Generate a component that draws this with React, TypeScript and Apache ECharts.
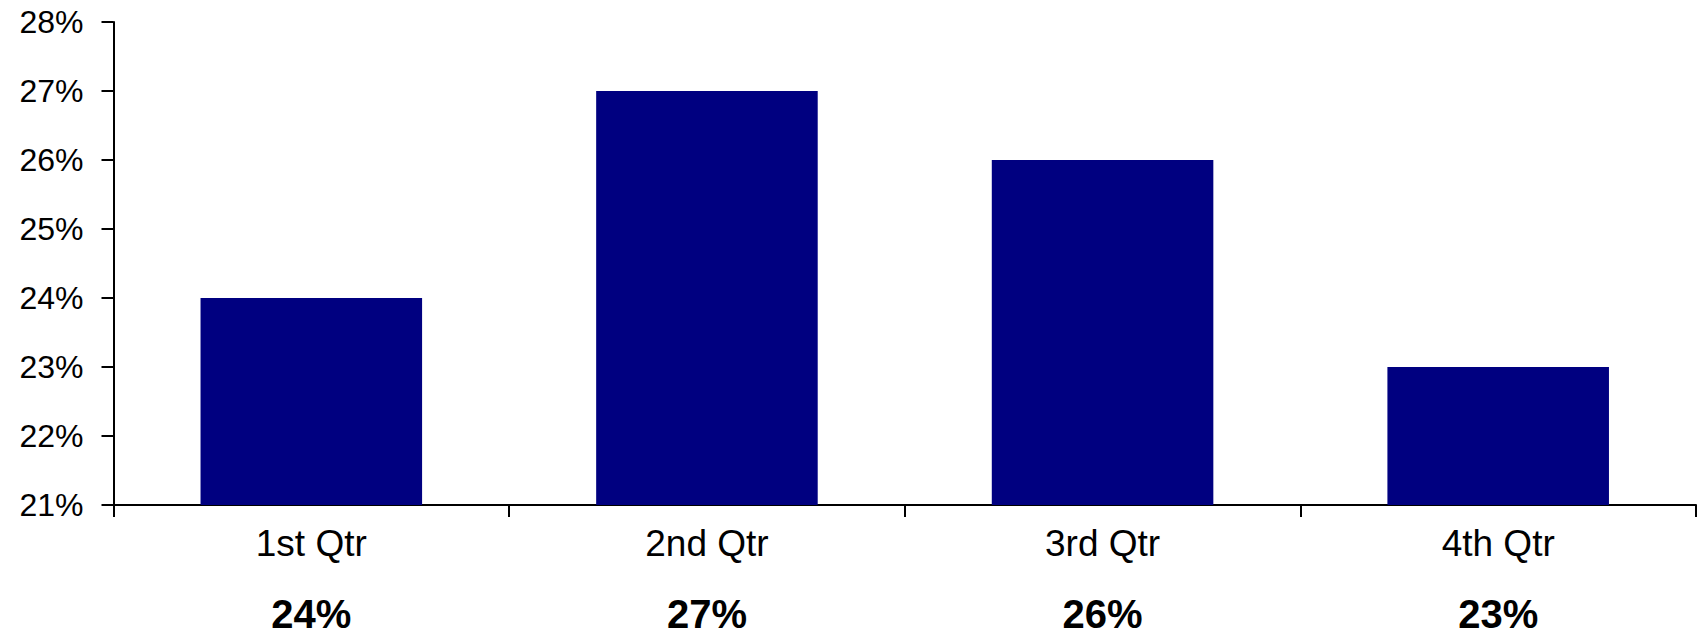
import React, { useEffect, useRef } from "react";
import * as echarts from "echarts";

const categories = ["1st Qtr", "2nd Qtr", "3rd Qtr", "4th Qtr"];
const values = [24, 27, 26, 23];
const yMin = 21;
const yMax = 28;
const yStep = 1;

export default function App() {
  const ref = useRef<HTMLDivElement>(null);
  useEffect(() => {
    if (!ref.current) return;
    const chart = echarts.init(ref.current, null, { renderer: "svg" });
    const font = "'Liberation Sans', Arial, sans-serif";
    chart.setOption({
      animation: false,
      backgroundColor: "#ffffff",
      grid: { left: 113.5, right: 4, top: 22, bottom: 134, containLabel: false },
      xAxis: [
        {
          type: "category",
          data: categories,
          position: "bottom",
          axisLine: { show: true, lineStyle: { color: "#000", width: 2 } },
          axisTick: { show: true, length: 12, lineStyle: { color: "#000", width: 2 } },
          axisLabel: { color: "#000", fontSize: 37, fontFamily: font, margin: 20 },
        },
        {
          type: "category",
          data: categories,
          position: "bottom",
          axisLine: { show: false },
          axisTick: { show: false },
          axisLabel: {
            color: "#000",
            fontSize: 40,
            lineHeight: 34,
            fontWeight: "bold",
            fontFamily: font,
            margin: 92,
            formatter: (_v: string, i: number) => values[i] + "%",
          },
        },
      ],
      yAxis: {
        type: "value",
        min: yMin,
        max: yMax,
        interval: yStep,
        splitLine: { show: false },
        axisLine: { show: true, lineStyle: { color: "#000", width: 2 } },
        axisTick: { show: true, length: 12, lineStyle: { color: "#000", width: 2 } },
        axisLabel: {
          color: "#000",
          fontSize: 32,
          fontFamily: font,
          margin: 30,
          formatter: "{value}%",
        },
      },
      series: [
        {
          type: "bar",
          data: values,
          xAxisIndex: 0,
          barWidth: "56%",
          itemStyle: { color: "#000080" },
        },
      ],
    });
    return () => chart.dispose();
  }, []);
  return (
    <div
      ref={ref}
      style={{ position: "fixed", left: 0, top: 0, width: 1700, height: 639, background: "#fff" }}
    />
  );
}
